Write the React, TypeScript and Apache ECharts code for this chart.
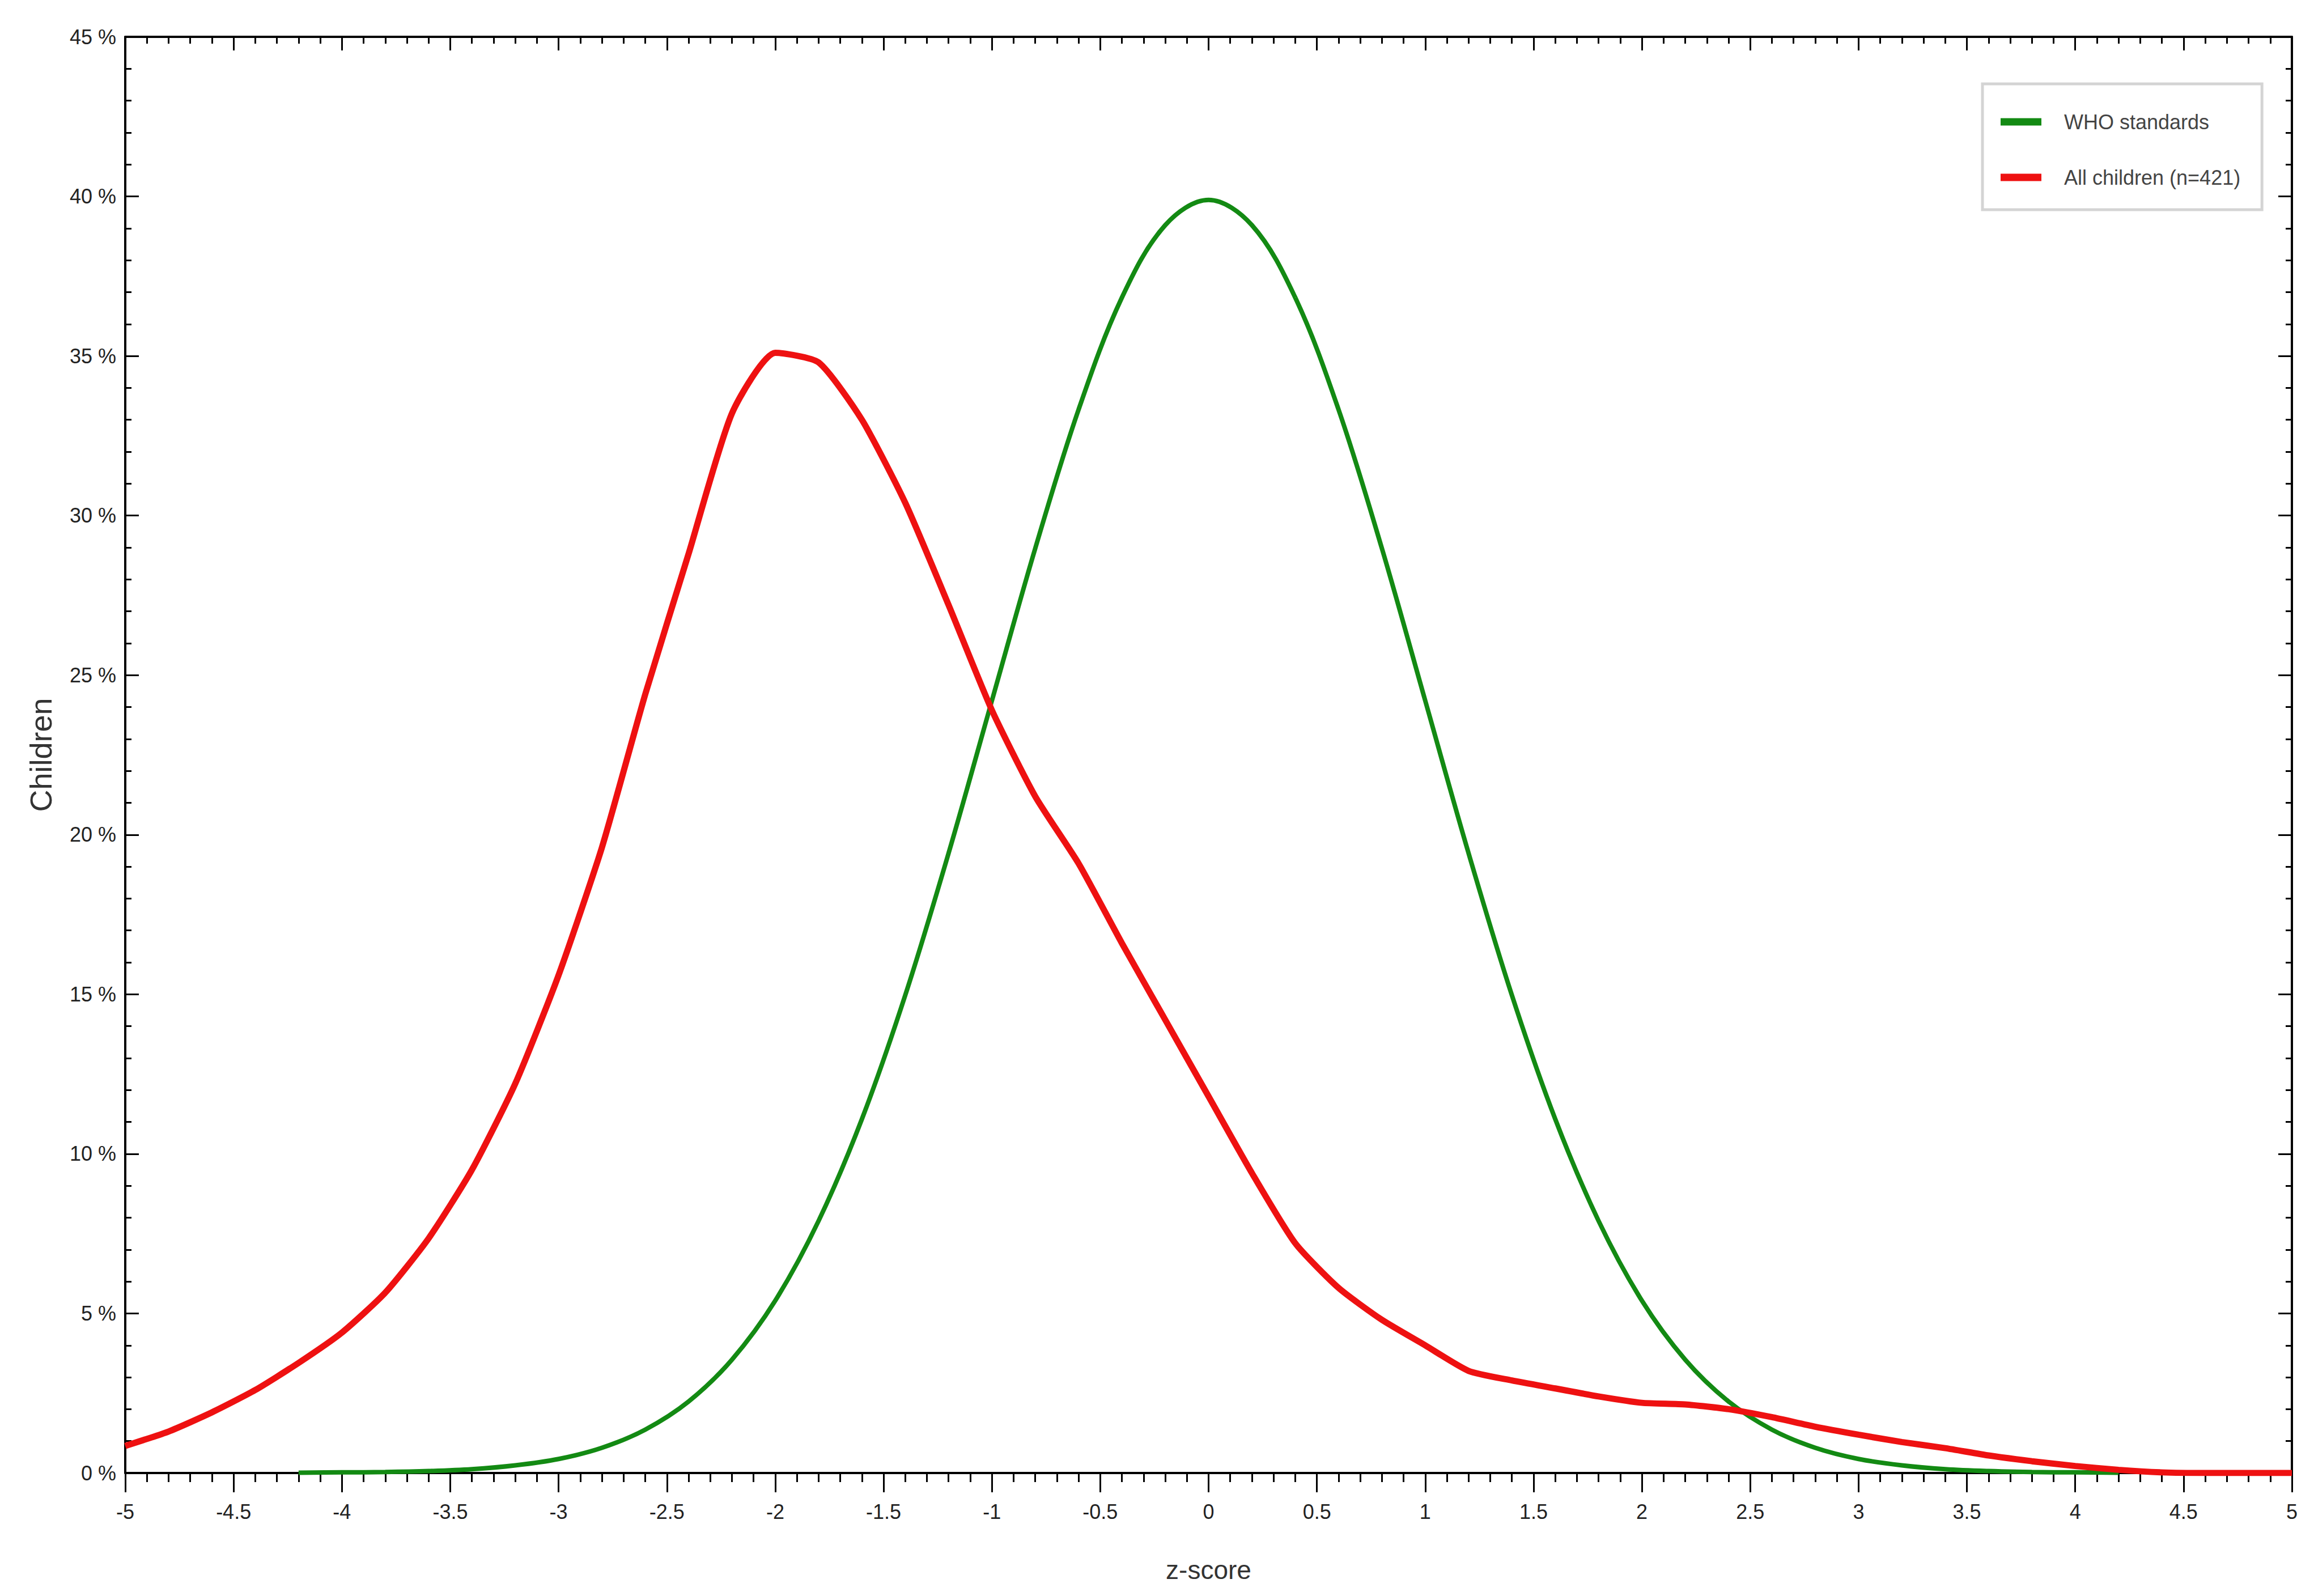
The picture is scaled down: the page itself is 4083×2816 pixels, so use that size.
import React, { useEffect, useRef } from "react";
import * as echarts from "echarts";

const FONT = "'Liberation Sans', Arial, sans-serif";

const zScores = [
  -5.0, -4.8, -4.6, -4.4, -4.2, -4.0, -3.8, -3.6, -3.4, -3.2,
  -3.0, -2.8, -2.6, -2.4, -2.2, -2.0, -1.8, -1.6, -1.4, -1.2,
  -1.0, -0.8, -0.6, -0.4, -0.2, 0.0, 0.2, 0.4, 0.6, 0.8,
  1.0, 1.2, 1.4, 1.6, 1.8, 2.0, 2.2, 2.4, 2.6, 2.8,
  3.0, 3.2, 3.4, 3.6, 3.8, 4.0, 4.2, 4.4, 4.6, 4.8, 5.0,
];

// WHO standards (% of children)
const whoValues = [
  null, null, null, null, 0.01, 0.02, 0.03, 0.06, 0.12, 0.24,
  0.44, 0.79, 1.36, 2.24, 3.55, 5.4, 7.9, 11.09, 14.97, 19.42,
  24.2, 28.97, 33.32, 36.83, 39.1, 39.89, 39.1, 36.83, 33.32, 28.97,
  24.2, 19.42, 14.97, 11.09, 7.9, 5.4, 3.55, 2.24, 1.36, 0.79,
  0.44, 0.24, 0.12, 0.06, 0.03, 0.02, 0.01, null, null, null, null,
];

// All children (n=421)
const allChildrenValues = [
  0.85, 1.3, 1.9, 2.6, 3.45, 4.4, 5.65, 7.35, 9.5, 12.2,
  15.6, 19.6, 24.4, 28.8, 33.2, 35.1, 34.8, 33.0, 30.4, 27.2,
  23.9, 21.2, 19.1, 16.6, 14.2, 11.8, 9.4, 7.2, 5.8, 4.8,
  4.0, 3.2, 2.9, 2.65, 2.4, 2.2, 2.15, 2.0, 1.75, 1.45,
  1.2, 0.97, 0.78, 0.55, 0.37, 0.22, 0.1, 0.02, 0, 0, 0,
];

const seriesNames = ["WHO standards", "All children (n=421)"];
const seriesColors = ["#138a13", "#ee1111"];

const xAxisName = "z-score";
const yAxisName = "Children";

export default function App() {
  const ref = useRef<HTMLDivElement>(null);

  useEffect(() => {
    if (!ref.current) return;
    const chart = echarts.init(ref.current, undefined, { renderer: "svg" });

    const toPairs = (vals: (number | null)[]) =>
      zScores.map((z, i) => [z, vals[i] === null ? "-" : vals[i]]);

    const axisLine = { show: true, onZero: false, lineStyle: { color: "#000", width: 4 } };

    const option: any = {
      animation: false,
      backgroundColor: "#ffffff",
      grid: { left: 221, right: 39, top: 65, bottom: 217, containLabel: false },
      legend: {
        orient: "vertical",
        left: 3498,
        top: 148,
        padding: [43, 38, 33, 32],
        itemGap: 50,
        itemWidth: 72,
        itemHeight: 13,
        icon: "rect",
        borderColor: "#d4d4d4",
        borderWidth: 5,
        backgroundColor: "#ffffff",
        textStyle: {
          fontSize: 36,
          fontFamily: FONT,
          color: "#444",
          lineHeight: 48,
          padding: [0, 0, 0, 35],
        },
        data: seriesNames,
      },
      xAxis: [
        {
          type: "value",
          position: "bottom",
          min: -5,
          max: 5,
          interval: 0.5,
          axisLine,
          axisTick: { show: true, inside: false, length: 34, lineStyle: { color: "#000", width: 3 } },
          minorTick: { show: true, splitNumber: 5, length: 16, lineStyle: { color: "#000", width: 3 } },
          splitLine: { show: false },
          minorSplitLine: { show: false },
          axisLabel: {
            show: true,
            margin: 50,
            fontSize: 36,
            fontFamily: FONT,
            color: "#222",
          },
          name: xAxisName,
          nameLocation: "middle",
          nameGap: 148,
          nameTextStyle: { fontSize: 46, fontFamily: FONT, color: "#333" },
        },
        {
          type: "value",
          position: "top",
          min: -5,
          max: 5,
          interval: 0.5,
          axisLine,
          axisTick: { show: true, inside: true, length: 24, lineStyle: { color: "#000", width: 3 } },
          minorTick: { show: true, splitNumber: 5, length: 12, lineStyle: { color: "#000", width: 3 } },
          splitLine: { show: false },
          axisLabel: { show: false },
        },
      ],
      yAxis: [
        {
          type: "value",
          position: "left",
          min: 0,
          max: 45,
          interval: 5,
          axisLine,
          axisTick: { show: true, inside: true, length: 24, lineStyle: { color: "#000", width: 3 } },
          minorTick: { show: true, splitNumber: 5, length: 11, lineStyle: { color: "#000", width: 3 } },
          splitLine: { show: false },
          minorSplitLine: { show: false },
          axisLabel: {
            show: true,
            margin: 16,
            fontSize: 36,
            fontFamily: FONT,
            color: "#222",
            formatter: "{value} %",
          },
          name: yAxisName,
          nameLocation: "middle",
          nameGap: 122,
          nameTextStyle: { fontSize: 54, fontFamily: FONT, color: "#333" },
        },
        {
          type: "value",
          position: "right",
          min: 0,
          max: 45,
          interval: 5,
          axisLine,
          axisTick: { show: true, inside: true, length: 24, lineStyle: { color: "#000", width: 3 } },
          minorTick: { show: true, splitNumber: 5, length: 11, lineStyle: { color: "#000", width: 3 } },
          splitLine: { show: false },
          axisLabel: { show: false },
        },
      ],
      series: [
        {
          name: seriesNames[0],
          type: "line",
          xAxisIndex: 0,
          yAxisIndex: 0,
          data: toPairs(whoValues),
          smooth: 0.35,
          showSymbol: false,
          symbol: "none",
          connectNulls: false,
          itemStyle: { color: seriesColors[0] },
          lineStyle: { color: seriesColors[0], width: 8 },
          z: 3,
        },
        {
          name: seriesNames[1],
          type: "line",
          xAxisIndex: 0,
          yAxisIndex: 0,
          data: toPairs(allChildrenValues),
          smooth: 0.2,
          showSymbol: false,
          symbol: "none",
          itemStyle: { color: seriesColors[1] },
          lineStyle: { color: seriesColors[1], width: 11 },
          z: 4,
        },
      ],
    };

    chart.setOption(option);
    const onResize = () => chart.resize();
    window.addEventListener("resize", onResize);
    return () => {
      window.removeEventListener("resize", onResize);
      chart.dispose();
    };
  }, []);

  return (
    <div
      ref={ref}
      style={{ position: "fixed", left: 0, top: 0, width: "100vw", height: "100vh", background: "#fff" }}
    />
  );
}
